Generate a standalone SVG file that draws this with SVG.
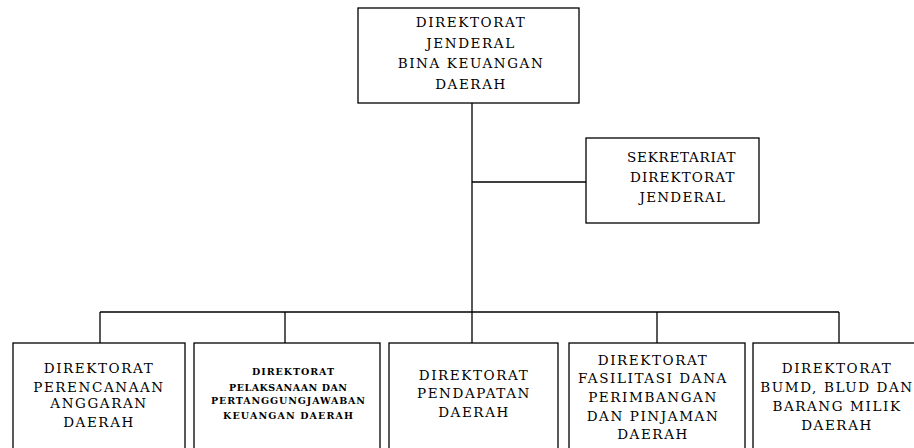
<svg xmlns="http://www.w3.org/2000/svg" width="914" height="448" viewBox="0 0 914 448">
<style>
.box{fill:#fff;stroke:#000;stroke-width:1.3}
.ln{fill:none;stroke:#000;stroke-width:1.3}
text{font-family:"DejaVu Serif","Liberation Serif",serif;font-size:13.5px;fill:#000;text-anchor:middle;letter-spacing:1.6px}
.sm{font-size:9.5px;letter-spacing:0px;font-weight:bold}
</style>
<rect width="914" height="448" fill="#fff"/>
<g id="connectors">
<path class="ln" d="M472 103V343M472 182H586M100 312H839M100 312V343M285 312V343M472 312V343M657 312V343M839 312V343"/>
</g>
<g id="dirjen">
<rect class="box" x="358" y="8" width="221" height="95"/>
<text x="471" y="27">DIREKTORAT</text>
<text x="471" y="48">JENDERAL</text>
<text x="471" y="68">BINA KEUANGAN</text>
<text x="471" y="89">DAERAH</text>
</g>
<g id="sekretariat">
<rect class="box" x="586" y="138" width="173" height="85"/>
<text x="682" y="162" textLength="110" lengthAdjust="spacing">SEKRETARIAT</text>
<text x="683" y="182" textLength="106" lengthAdjust="spacing">DIREKTORAT</text>
<text x="683" y="202" textLength="87" lengthAdjust="spacing">JENDERAL</text>
</g>
<g id="perencanaan">
<rect class="box" x="13" y="343" width="172" height="110"/>
<text x="99" y="373">DIREKTORAT</text>
<text x="99" y="392">PERENCANAAN</text>
<text x="99" y="408">ANGGARAN</text>
<text x="99" y="427">DAERAH</text>
</g>
<g id="pelaksanaan">
<rect class="box" x="194" y="343" width="186" height="110"/>
<text class="sm" x="293" y="374.5" textLength="82" lengthAdjust="spacing">DIREKTORAT</text>
<text class="sm" x="288" y="390.5" textLength="118" lengthAdjust="spacing">PELAKSANAAN DAN</text>
<text class="sm" x="288" y="403.5" textLength="154" lengthAdjust="spacing">PERTANGGUNGJAWABAN</text>
<text class="sm" x="288" y="418.5" textLength="130" lengthAdjust="spacing">KEUANGAN DAERAH</text>
</g>
<g id="pendapatan">
<rect class="box" x="389" y="343" width="169" height="110"/>
<text x="474" y="380">DIREKTORAT</text>
<text x="474" y="398">PENDAPATAN</text>
<text x="474" y="417">DAERAH</text>
</g>
<g id="fasilitasi">
<rect class="box" x="569" y="343" width="176" height="110"/>
<text x="653" y="365">DIREKTORAT</text>
<text x="653" y="383">FASILITASI DANA</text>
<text x="653" y="402">PERIMBANGAN</text>
<text x="653" y="421">DAN PINJAMAN</text>
<text x="653" y="439">DAERAH</text>
</g>
<g id="bumd">
<rect class="box" x="753" y="343" width="170" height="110"/>
<text x="837" y="373">DIREKTORAT</text>
<text x="837" y="392">BUMD, BLUD DAN</text>
<text x="837" y="411">BARANG MILIK</text>
<text x="837" y="430">DAERAH</text>
</g>
</svg>
